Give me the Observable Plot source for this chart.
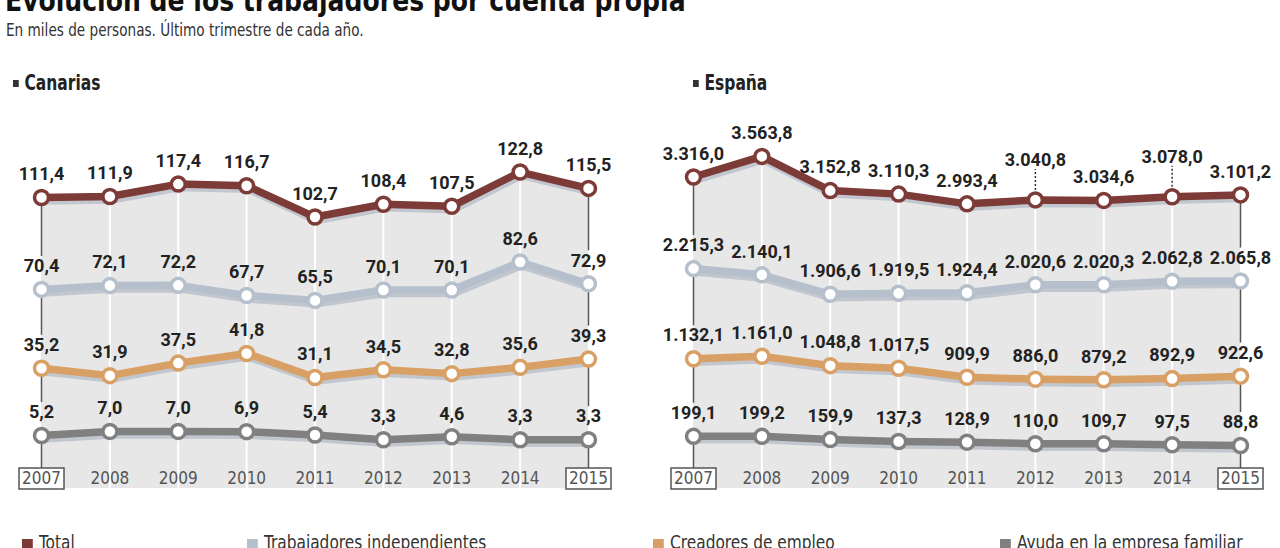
<!DOCTYPE html>
<html>
<head>
<meta charset="utf-8">
<script src="https://cdn.jsdelivr.net/npm/d3@7"></script>
<script src="https://cdn.jsdelivr.net/npm/@observablehq/plot@0.6"></script>
<style>
  html, body { margin: 0; padding: 0; }
  body { width: 1280px; height: 548px; overflow: hidden; background: #fff; position: relative;
         font-family: "DejaVu Sans Condensed", "Roboto", sans-serif; color: #222; }
  .abs { position: absolute; white-space: nowrap; transform-origin: 0 50%; }
  #title { left: 5px; top: -14px; font-size: 30px; line-height: 30px; font-weight: bold; color: #111; transform: scaleX(0.93); }
  #subtitle { left: 6px; top: 20px; font-size: 17px; line-height: 20px; color: #333; transform: scaleX(0.89); }
  .ptitle { font-size: 21px; line-height: 24px; font-weight: bold; color: #222; top: 71px; transform: scaleX(0.82); }
  .ptitle .sq { display: inline-block; width: 7px; height: 7px; background: #333; margin-right: 7px; vertical-align: 3px; }
  .panel { position: absolute; top: 100px; }
  .leg { font-size: 19px; line-height: 20px; color: #333; top: 532px; transform: scaleX(0.9); }
  .leg .sq { display: inline-block; width: 12px; height: 11px; margin-right: 7px; vertical-align: -1px; }
</style>
</head>
<body>
<div id="title" class="abs">Evolución de los trabajadores por cuenta propia</div>
<div id="subtitle" class="abs">En miles de personas. Último trimestre de cada año.</div>
<div id="t1" class="abs ptitle" style="left:13px"><span class="sq"></span>Canarias</div>
<div id="t2" class="abs ptitle" style="left:693px"><span class="sq"></span>España</div>
<div id="p1" class="panel" style="left:0px"></div>
<div id="p2" class="panel" style="left:652px"></div>
<div id="legend"></div>
<script>
// ---- Data ----
const years = [2007, 2008, 2009, 2010, 2011, 2012, 2013, 2014, 2015];
const seriesNames = ["Total", "Trabajadores independientes", "Creadores de empleo", "Ayuda en la empresa familiar"];
const seriesColors = ["#7d3b37", "#b5c0cc", "#d8a065", "#808080"];

const canariasTotal     = [111.4, 111.9, 117.4, 116.7, 102.7, 108.4, 107.5, 122.8, 115.5];
const canariasIndep     = [70.4, 72.1, 72.2, 67.7, 65.5, 70.1, 70.1, 82.6, 72.9];
const canariasCreadores = [35.2, 31.9, 37.5, 41.8, 31.1, 34.5, 32.8, 35.6, 39.3];
const canariasAyuda     = [5.2, 7.0, 7.0, 6.9, 5.4, 3.3, 4.6, 3.3, 3.3];

const espanaTotal     = [3316.0, 3563.8, 3152.8, 3110.3, 2993.4, 3040.8, 3034.6, 3078.0, 3101.2];
const espanaIndep     = [2215.3, 2140.1, 1906.6, 1919.5, 1924.4, 2020.6, 2020.3, 2062.8, 2065.8];
const espanaCreadores = [1132.1, 1161.0, 1048.8, 1017.5, 909.9, 886.0, 879.2, 892.9, 922.6];
const espanaAyuda     = [199.1, 199.2, 159.9, 137.3, 128.9, 110.0, 109.7, 97.5, 88.8];

// Total labels lifted with a dashed connector (España)
const espanaRaisedYears = [2012, 2014];

// ---- Helpers ----
const fmt = d3.formatLocale({decimal: ",", thousands: ".", grouping: [3]}).format(",.1f");

const boxSymbol = { draw(ctx) { ctx.rect(-22.5, -10.5, 45, 21); } };
const dashSymbol = { draw(ctx) { ctx.moveTo(0, -10); ctx.lineTo(0, -31); } };

function panel(vals, yDomain, width, raisedYears) {
  const rows = [];
  seriesNames.forEach((s, i) => vals[i].forEach((v, j) => rows.push({series: s, si: i, year: years[j], value: v})));
  const totals = years.map((y, j) => ({year: y, value: vals[0][j]}));
  const bottom = yDomain[0];
  const first = years[0], last = years[years.length - 1];
  const segs = [];
  for (const y of [first, last]) {
    const j = years.indexOf(y);
    for (let i = 0; i < 4; i++) {
      segs.push({year: y, top: vals[i][j], low: i < 3 ? vals[i + 1][j] : bottom, end: i === 3});
    }
  }
  const isRaised = d => d.si === 0 && raisedYears.includes(d.year);
  const labelFont = {fontSize: 18, fontWeight: "bold", fill: "#222", fontFamily: "Roboto, sans-serif"};
  return Plot.plot({
    width, height: 400,
    marginTop: 0, marginBottom: 0, marginLeft: 0, marginRight: 0,
    style: {fontFamily: '"DejaVu Sans Condensed", sans-serif', background: "transparent", overflow: "visible"},
    x: {domain: [first, last], range: [41, 588], axis: null},
    y: {domain: yDomain, range: [388, 0], axis: null},
    color: {domain: seriesNames, range: seriesColors},
    marks: [
      Plot.areaY(totals, {x: "year", y1: bottom, y2: "value", fill: "#e7e7e7"}),
      Plot.ruleX(totals.filter(d => d.year !== first && d.year !== last), {x: "year", y1: "value", y2: bottom, stroke: "#fff", strokeWidth: 2}),
      Plot.ruleX(segs.filter(d => !d.end), {x: "year", y1: "top", y2: "low", insetBottom: 33, stroke: "#555", strokeWidth: 1.5}),
      Plot.ruleX(segs.filter(d => d.end), {x: "year", y1: "top", y2: "low", insetBottom: 20, stroke: "#555", strokeWidth: 1.5}),
      Plot.line(rows, {x: "year", y: "value", z: "series", stroke: "#c2c7cf", strokeWidth: 7.5, dx: 1.5, dy: 3.5, strokeLinejoin: "round"}),
      Plot.line(rows, {x: "year", y: "value", z: "series", stroke: "series", strokeWidth: 7.5, strokeLinejoin: "round"}),
      Plot.dot(rows, {x: "year", y: "value", r: 7, fill: "#fff", stroke: "series", strokeWidth: 3.5}),
      Plot.text(rows.filter(d => !isRaised(d)), {x: "year", y: "value", text: d => fmt(d.value), dy: -23, ...labelFont}),
      Plot.text(rows.filter(isRaised), {x: "year", y: "value", text: d => fmt(d.value), dy: -40, ...labelFont}),
      Plot.dot(rows.filter(isRaised), {x: "year", y: "value", symbol: dashSymbol, r: 10, fill: "none", stroke: "#333", strokeWidth: 1.5, strokeDasharray: "2,2"}),
      Plot.dot([first, last], {x: d => d, y: bottom, dy: -10, symbol: boxSymbol, r: 10, fill: "#fff", stroke: "#555", strokeWidth: 1.5}),
      Plot.text(years, {x: d => d, y: bottom, dy: -10, text: d => String(d), fontSize: 17, fill: "#555"})
    ]
  });
}

document.getElementById("p1").append(
  panel([canariasTotal, canariasIndep, canariasCreadores, canariasAyuda], [-18.48, 154.73], 640, [])
);
document.getElementById("p2").append(
  panel([espanaTotal, espanaIndep, espanaCreadores, espanaAyuda], [-427.9, 4235.6], 628, espanaRaisedYears)
);

// Legend
const legendX = [22, 247, 653, 1000];
const legend = document.getElementById("legend");
seriesNames.forEach((s, i) => {
  const el = document.createElement("div");
  el.className = "abs leg";
  el.style.left = legendX[i] + "px";
  el.innerHTML = `<span class="sq" style="background:${seriesColors[i]}"></span>${s}`;
  legend.append(el);
});
</script>
</body>
</html>
